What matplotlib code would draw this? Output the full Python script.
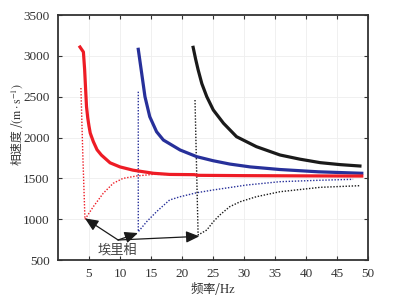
import matplotlib
matplotlib.use("Agg")
import matplotlib.pyplot as plt

plt.rcParams["mathtext.fontset"] = "stix"

# Data
red_f = [3.55, 4.1, 4.3, 4.45, 4.6, 4.8, 5.0, 5.2, 5.7, 6.3, 7.0, 8.4, 10.0, 12.1,
         15.4, 18.0, 22.0, 22.5, 30.0, 40.0, 49.0]
red_v = [3108, 3047, 2830, 2600, 2380, 2240, 2140, 2055, 1950, 1850, 1785, 1690, 1640, 1600,
         1562, 1548, 1545, 1537, 1533, 1530, 1528]
red_df = [3.7, 4.0, 4.35, 5.7, 7.3, 8.9, 10.5, 12.7, 15.4, 18.0, 22.0, 30.0, 40.0, 49.0]
red_dv = [2606, 1800, 998, 1153, 1317, 1439, 1500, 1529, 1549, 1548, 1540, 1535, 1532, 1530]

blue_f = [12.95, 13.5, 14.03, 14.8, 15.9, 17.0, 19.7, 22.4, 25.0, 27.7, 31.0, 35.8, 42.0, 49.0]
blue_v = [3080, 2786, 2500, 2255, 2071, 1969, 1847, 1765, 1716, 1675, 1640, 1608, 1580, 1562]
blue_df = [12.95, 12.95, 14.3, 15.9, 18.0, 19.7, 22.4, 25.0, 30.4, 35.8, 42.0, 47.6]
blue_dv = [2561, 846, 969, 1092, 1235, 1275, 1324, 1357, 1418, 1459, 1476, 1488]

black_f = [21.8, 22.2, 22.6, 23.2, 24.0, 25.05, 26.7, 28.8, 32.0, 35.8, 39.0, 42.3, 45.5, 48.7]
black_v = [3104, 2960, 2830, 2660, 2500, 2337, 2174, 2010, 1888, 1786, 1735, 1692, 1668, 1651]
black_df = [22.1, 22.6, 24.0, 25.05, 26.1, 27.7, 29.4, 32.0, 35.8, 42.3, 48.7]
black_dv = [2459, 806, 867, 969, 1051, 1153, 1214, 1275, 1336, 1390, 1410]

xticks = [5, 10, 15, 20, 25, 30, 35, 40, 45, 50]
yticks = [500, 1000, 1500, 2000, 2500, 3000, 3500]

label_text = "埃里相"
label_xy = (9.6, 620)
arrow_src = (9.7, 745)
arrow_tips = [(4.35, 1010), (12.9, 830), (22.8, 790)]

serif = ["Liberation Serif", "DejaVu Serif"]
cjk = ["Noto Sans CJK SC", "DejaVu Sans"]

fig = plt.figure(figsize=(3.95, 2.96), dpi=100)
ax = fig.add_axes([0.1468, 0.1216, 0.7848, 0.8277])

red = "#ee1c25"
blue = "#27309a"
black = "#1a1a1a"

ax.plot(red_df, red_dv, color=red, lw=1.0, ls=(0, (1, 1.2)))
ax.plot(blue_df, blue_dv, color=blue, lw=1.0, ls=(0, (1, 1.2)))
ax.plot(black_df, black_dv, color=black, lw=1.0, ls=(0, (1, 1.2)))
ax.plot(black_f, black_v, color=black, lw=2.3, solid_joinstyle="round")
ax.plot(blue_f, blue_v, color=blue, lw=2.3, solid_joinstyle="round")
ax.plot(red_f, red_v, color=red, lw=2.3, solid_joinstyle="round")

for tip in arrow_tips:
    ax.annotate("", xy=tip, xytext=arrow_src,
                arrowprops=dict(arrowstyle="-|>,head_length=0.8,head_width=0.35",
                                color="#1a1a1a", lw=0.9, shrinkA=0, shrinkB=0))
ax.text(label_xy[0], label_xy[1], label_text, family=cjk, fontsize=9.5,
        color="#444444", ha="center", va="center")

ax.set_xlim(0, 50)
ax.set_ylim(500, 3500)
ax.set_xticks(xticks)
ax.set_yticks(yticks)
ax.grid(True, color="#eeeeee", lw=0.6)
ax.tick_params(direction="in", top=True, right=True, length=3, width=0.8,
               labelsize=9.5, colors="#333333", pad=6)
for lab in ax.get_xticklabels() + ax.get_yticklabels():
    lab.set_family(serif)
for s in ax.spines.values():
    s.set_linewidth(1.3)
    s.set_color("#333333")

ax.set_xlabel(r"频率/$\mathrm{Hz}$", family=cjk, fontsize=9, color="#333333", labelpad=0)
ax.set_ylabel(r"相速度 /$(\mathrm{m}\cdot\mathrm{s}^{-1})$", family=cjk, fontsize=8.5,
              color="#333333")
ax.yaxis.set_label_coords(-0.105, 0.551)

fig.savefig("out.png", dpi=100)
